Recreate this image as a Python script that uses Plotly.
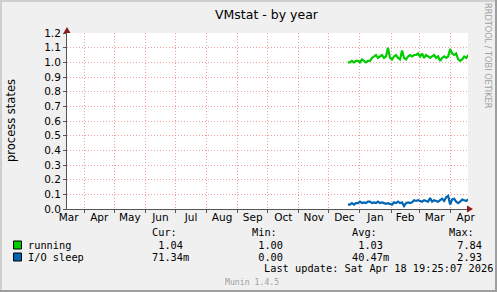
import pandas as pd
import plotly.graph_objects as go

# ---------------- data ----------------
title = "VMstat - by year"
y_title = "process states"
x_start = "2025-03-14 19:25:07"
x_end = "2026-04-18 19:25:07"
series_start = "2025-12-20"
series_step_days = 2

running = [1.00, 1.00, 1.01, 1.00, 1.01, 1.01, 1.00, 1.02, 1.01, 1.00,
           1.01, 1.01, 1.03, 1.04, 1.05, 1.03, 1.04, 1.05, 1.03, 1.04,
           1.10, 1.03, 1.02, 1.04, 1.05, 1.03, 1.02, 1.08, 1.03, 1.02,
           1.04, 1.05, 1.04, 1.05, 1.05, 1.06, 1.04, 1.06, 1.03, 1.05,
           1.04, 1.03, 1.04, 1.05, 1.03, 1.04, 1.01, 1.03, 1.04, 1.03,
           1.04, 1.09, 1.06, 1.05, 1.06, 1.02, 1.01, 1.02, 1.04, 1.03,
           1.05]
io_sleep = [0.030, 0.030, 0.040, 0.030, 0.040, 0.040, 0.050, 0.040, 0.045, 0.040,
            0.050, 0.050, 0.040, 0.045, 0.040, 0.050, 0.040, 0.045, 0.040, 0.035,
            0.040, 0.035, 0.030, 0.045, 0.040, 0.050, 0.040, 0.045, 0.020, 0.040,
            0.045, 0.040, 0.045, 0.060, 0.055, 0.060, 0.055, 0.050, 0.060, 0.055,
            0.050, 0.075, 0.050, 0.060, 0.055, 0.050, 0.060, 0.070, 0.055, 0.080,
            0.090, 0.030, 0.065, 0.070, 0.050, 0.040, 0.050, 0.065, 0.060, 0.055,
            0.065]

series_names = ["running", "I/O sleep"]
series_colors = ["#00CC00", "#0066B3"]
col_headers = ["Cur:", "Min:", "Avg:", "Max:"]
stats = [[" 1.04", " 1.00", " 1.03", " 7.84"],
         ["71.34m", " 0.00", "40.47m", " 2.93"]]
last_update = "Last update: Sat Apr 18 19:25:07 2026"
footer = "Munin 1.4.5"
side_text = "RRDTOOL / TOBI OETIKER"

dates = pd.date_range(series_start, periods=len(running), freq=f"{series_step_days}D")

# ---------------- layout helpers ----------------
W, H = 497, 292
L, R, T, B = 67, 468, 33, 209


def px(x):
    return (x - L) / (R - L)


def py(y):
    return (B - y) / (B - T)


fig = go.Figure()
fig.add_trace(go.Scatter(x=dates, y=running, mode="lines",
                         line=dict(color=series_colors[0], width=2.2),
                         name=series_names[0], showlegend=False))
fig.add_trace(go.Scatter(x=dates, y=io_sleep, mode="lines",
                         line=dict(color=series_colors[1], width=2.2),
                         name=series_names[1], showlegend=False))

axis_font = dict(family="DejaVu Sans", size=10.5, color="#000000")
grid_col = "#F0A0A0"
grid_dash = "1px,2px"

fig.update_xaxes(
    type="date", range=[x_start, x_end],
    tick0="2025-04-01", dtick="M1", tickformat="%b", ticklabelmode="period",
    showgrid=True, gridcolor=grid_col, griddash=grid_dash, gridwidth=1,
    ticks="outside", ticklen=3, tickcolor="#555555", ticklabelstandoff=-5,
    showline=True, linecolor="#555555", linewidth=1,
    tickfont=axis_font, zeroline=False, fixedrange=True,
)
fig.update_yaxes(
    range=[0, 1.2], tick0=0, dtick=0.1, tickformat=".1f",
    showgrid=True, gridcolor=grid_col, griddash=grid_dash, gridwidth=1,
    ticks="outside", ticklen=3, tickcolor="#555555",
    showline=True, linecolor="#555555", linewidth=1,
    tickfont=axis_font, zeroline=False, fixedrange=True,
)

shapes = []
# 3D border
shapes.append(dict(type="rect", xref="paper", yref="paper", x0=px(0), x1=px(2), y0=py(H), y1=py(0),
                   fillcolor="#CFCFCF", line=dict(width=0), layer="below"))
shapes.append(dict(type="rect", xref="paper", yref="paper", x0=px(0), x1=px(W), y0=py(2), y1=py(0),
                   fillcolor="#CFCFCF", line=dict(width=0), layer="below"))
shapes.append(dict(type="rect", xref="paper", yref="paper", x0=px(W - 2), x1=px(W), y0=py(H), y1=py(0),
                   fillcolor="#9E9E9E", line=dict(width=0), layer="below"))
shapes.append(dict(type="rect", xref="paper", yref="paper", x0=px(0), x1=px(W), y0=py(H), y1=py(H - 2),
                   fillcolor="#9E9E9E", line=dict(width=0), layer="below"))
# axis arrows
arrow_col = "#8B1A1A"
shapes.append(dict(type="path", xref="paper", yref="paper",
                   path=f"M {px(L-3.5)} {py(T)} L {px(L+3.5)} {py(T)} L {px(L)} {py(T-6)} Z",
                   fillcolor=arrow_col, line=dict(width=0)))
shapes.append(dict(type="path", xref="paper", yref="paper",
                   path=f"M {px(R-1)} {py(B-3.5)} L {px(R-1)} {py(B+3.5)} L {px(R+5)} {py(B)} Z",
                   fillcolor=arrow_col, line=dict(width=0)))
# legend squares
for i, c in enumerate(series_colors):
    yc = 245 + 12 * i
    shapes.append(dict(type="rect", xref="paper", yref="paper",
                       x0=px(13.5), x1=px(21.5), y0=py(yc + 4), y1=py(yc - 4),
                       fillcolor=c, line=dict(color="#000000", width=1)))

mono = "DejaVu Sans Mono"
ann = []


def text(s, x, y, size=10.3, color="#000000", family=mono, xanchor="left", angle=0):
    ann.append(dict(text=s, x=px(x), y=py(y), xref="paper", yref="paper",
                    showarrow=False, xanchor=xanchor, yanchor="middle",
                    textangle=angle, font=dict(family=family, size=size, color=color)))


text(title, 267, 14, size=12.5, family="DejaVu Sans", xanchor="center")
text(y_title, 11, 121, size=11.5, family="DejaVu Sans", xanchor="center", angle=-90)
text(side_text, 488, 56, size=8.2, family="DejaVu Sans", color="#A0A0A0", xanchor="center", angle=90)

col_x = [150, 250, 350, 449]
head_x = [150, 250, 350, 447]
for h, x in zip(col_headers, head_x):
    text(h, x, 232)
for i, name in enumerate(series_names):
    yc = 245 + 12 * i
    text(name, 26, yc)
    for s, x in zip(stats[i], col_x):
        text(s, x, yc)
text(last_update, 262, 268)
text(footer, 223, 282, size=8.2, color="#A0A0A0")

fig.update_layout(
    width=W, height=H,
    margin=dict(l=L, r=W - R, t=T, b=H - B, pad=0),
    paper_bgcolor="#F0F0F0", plot_bgcolor="#FFFFFF",
    shapes=shapes, annotations=ann, showlegend=False,
)

fig.write_html("out.html", config={"displayModeBar": False})
